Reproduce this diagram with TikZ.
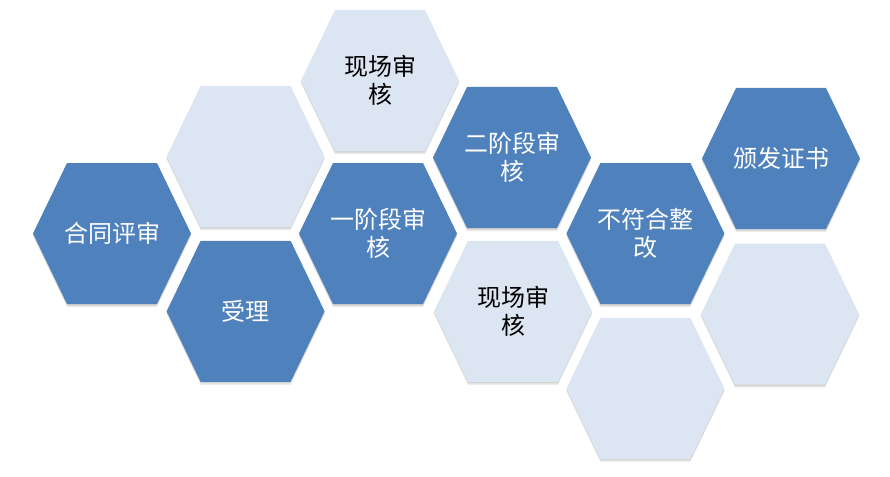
\documentclass[tikz,border=0pt]{standalone}
\usepackage{fontspec}
\setmainfont{Noto Sans CJK SC}
\definecolor{darkhex}{HTML}{4F81BD}
\definecolor{lighthex}{HTML}{DCE6F2}
\tikzset{
  darkfill/.style={fill=darkhex},
  lightfill/.style={fill=lighthex},
  darktext/.style={text=white},
  lighttext/.style={text=black},
  hextext/.style={align=center, inner sep=0pt, font=\fontsize{24}{28.5}\selectfont},
}
\newcommand\hexpath{(-79,0) -- (-45,-70.5) -- (45,-70.5) -- (79,0) -- (45,70.5) -- (-45,70.5) -- cycle}
% #1 name, #2 x, #3 y, #4 dark/light, #5 text
\newcommand\hexcell[5]{%
  \fill[shift={(#2,#3+1.5)}, black, opacity=0.10] \hexpath;
  \fill[shift={(#2,#3+3)}, black, opacity=0.08] \hexpath;
  \fill[#4fill, shift={(#2,#3)}] \hexpath;
  \node[hextext, #4text] (#1) at (#2,#3) {#5};
}
\begin{document}
\begin{tikzpicture}[x=1pt,y=-1pt]
  \useasboundingbox (0,0) rectangle (890,476);
  \hexcell{h1}{112}{233.5}{dark}{合同评审}
  \hexcell{h2}{245.6}{156.5}{light}{}
  \hexcell{h3}{245.6}{311.3}{dark}{受理}
  \hexcell{h4}{380}{80.5}{light}{现场审\\核}
  \hexcell{h5}{378}{233.5}{dark}{一阶段审\\核}
  \hexcell{h6}{512}{157.5}{dark}{二阶段审\\核}
  \hexcell{h7}{513}{311.3}{light}{现场审\\核}
  \hexcell{h8}{645.4}{233.5}{dark}{不符合整\\改}
  \hexcell{h9}{645.4}{388.4}{light}{}
  \hexcell{h10}{781}{158.5}{dark}{颁发证书}
  \hexcell{h11}{780}{314}{light}{}
\end{tikzpicture}
\end{document}
